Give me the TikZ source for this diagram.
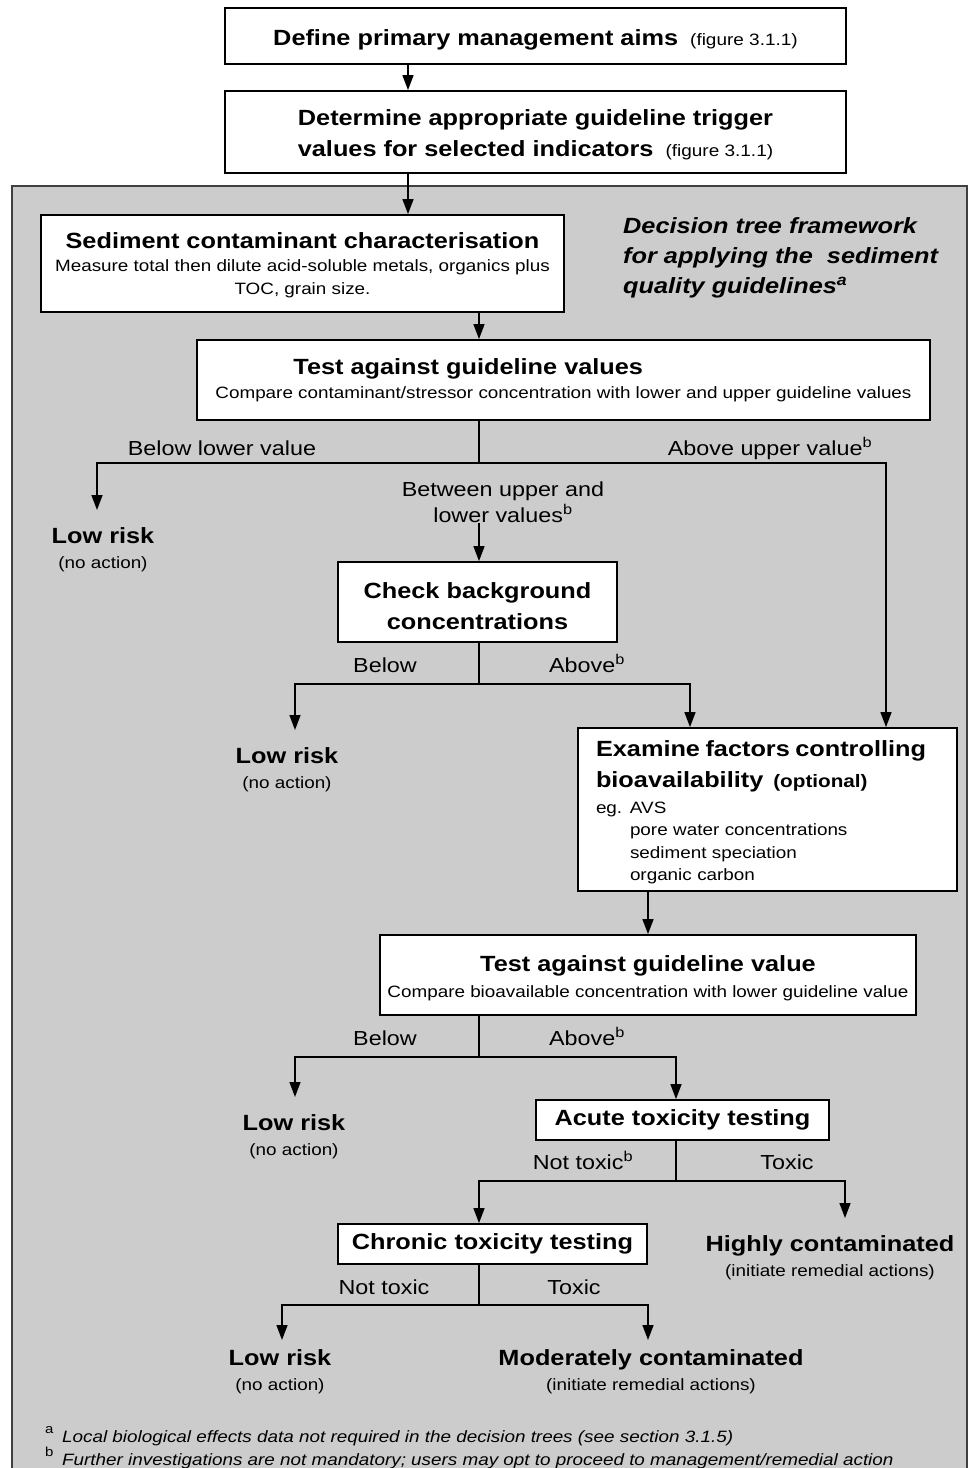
\documentclass[tikz,border=0pt]{standalone}
\usepackage{fontspec}
\setmainfont{Liberation Sans}[FakeStretch=1.15]
\usepackage{tikz}
\usetikzlibrary{positioning, arrows.meta}

\newcommand{\headtxt}[1]{{\bfseries\fontsize{22}{30}\selectfont #1}}
\newcommand{\figref}{{\fontsize{16.5}{18}\selectfont(figure 3.1.1)}}
\newcommand{\topstrut}[1]{\rule{0pt}{#1}}

\begin{document}
\begin{tikzpicture}[
    x=1pt, y=-1pt,
    box/.style={draw=black, line width=1.8pt, fill=white, inner sep=0pt, align=center, font=\fontsize{16.4}{24}\selectfont},
    conn/.style={black, line width=1.4pt},
    arrow line/.style={conn, -{Triangle[length=15pt, width=11pt]}},
    branch label/.style={font=\fontsize{20.3}{26}\selectfont, inner sep=0pt, align=center},
    outcome/.style={font=\fontsize{16.4}{25}\selectfont, inner sep=0pt, outer ysep=18pt, align=center, anchor=north}
]

\tikzset{note/.style={anchor=base west, inner sep=0pt, font=\itshape\fontsize{16.4}{18}\selectfont}}

% --- 0. Page and grey panel ---
\useasboundingbox (0,0) rectangle (969,1468);
\fill[white] (0,0) rectangle (969,1468);
\fill[gray!40] (12,186) rectangle (967,1468);
\draw[black!75, line width=1.5pt] (12,1468) |- (967,186) -- (967,1468);

% --- 1. Management aims ---
\node[box, minimum width=621pt, minimum height=56pt] (aims) at (535.5,36)
    {\topstrut{24pt}\headtxt{Define primary management aims}\hspace{12pt}\figref};
\node[box, minimum width=621pt, minimum height=82pt, font=\fontsize{16.4}{31}\selectfont] (trigger) at (535.5,132)
    {\topstrut{22pt}\headtxt{Determine appropriate guideline trigger}\\\headtxt{values for selected indicators}\hspace{12pt}\figref};

% --- 2. Characterisation and first test ---
\node[box, minimum width=523pt, minimum height=97pt, font=\fontsize{16.4}{23}\selectfont] (charac) at (302.5,263.5)
    {\topstrut{20pt}\headtxt{Sediment contaminant characterisation}\\Measure total then dilute acid-soluble metals, organics plus\\TOC, grain size.};

\node[anchor=north west, inner sep=0pt, align=left, font=\bfseries\itshape\fontsize{22}{30}\selectfont] (frame) at (623,217)
    {Decision tree framework\\for applying the\hspace{7pt} sediment\\quality guidelines\textsuperscript{a}};

\node[box, minimum width=733pt, minimum height=80pt, align=left] (test) at (563.5,380)
    {\hspace*{78pt}\headtxt{Test against guideline values}\\Compare contaminant/stressor concentration with lower and upper guideline values};

\node[branch label, anchor=base] (belowlow) at (222,455) {Below lower value};
\node[branch label, anchor=base] (aboveup) at (770,455) {Above upper value\textsuperscript{b}};
\node[branch label] (between) at (503,502) {Between upper and\\lower values\textsuperscript{b}};

\node[outcome] (low1) at (103,510) {\headtxt{Low risk}\\(no action)};

% --- 3. Background check ---
\node[box, minimum width=279pt, minimum height=80pt, font=\fontsize{16.4}{31}\selectfont] (check) at (477.5,602)
    {\topstrut{24pt}\headtxt{Check background}\\\headtxt{concentrations}};

\node[branch label, anchor=base] (below2) at (385,672) {Below};
\node[branch label, anchor=base] (above2) at (587,672) {Above\textsuperscript{b}};

\node[outcome] (low2) at (287,730) {\headtxt{Low risk}\\(no action)};

% --- 4. Bioavailability ---
\node[box, minimum width=379pt, minimum height=163pt, text width=343pt, align=left, font=\fontsize{16.4}{22.5}\selectfont] (examine) at (767.5,809.5)
    {\topstrut{21pt}\headtxt{Examine factors controlling}\\[8.5pt]
     \headtxt{bioavailability}\hspace{10pt}{\bfseries\fontsize{18}{20}\selectfont(optional)}\\[3.5pt]
     \makebox[34pt][l]{eg.}AVS\\
     \hspace*{34pt}pore water concentrations\\
     \hspace*{34pt}sediment speciation\\
     \hspace*{34pt}organic carbon};

\node[box, minimum width=536pt, minimum height=80pt, font=\fontsize{16.4}{26}\selectfont] (value) at (648,975)
    {\topstrut{23pt}\headtxt{Test against guideline value}\\Compare bioavailable concentration with lower guideline value};

\node[branch label, anchor=base] (below3) at (385,1045) {Below};
\node[branch label, anchor=base] (above3) at (587,1045) {Above\textsuperscript{b}};

\node[outcome] (low3) at (294,1097) {\headtxt{Low risk}\\(no action)};

% --- 5. Toxicity testing ---
\node[box, minimum width=293pt, minimum height=40pt] (acute) at (682.5,1120) {\headtxt{Acute toxicity testing}};

\node[branch label, anchor=base] (nottox1) at (583,1169) {Not toxic\textsuperscript{b}};
\node[branch label, anchor=base] (tox1) at (787,1169) {Toxic};

\node[box, minimum width=309pt, minimum height=40pt] (chronic) at (492.5,1244) {\headtxt{Chronic toxicity testing}};
\node[outcome] (high) at (830,1218) {\headtxt{Highly contaminated}\\(initiate remedial actions)};

\node[branch label, anchor=base] (nottox2) at (384,1294) {Not toxic};
\node[branch label, anchor=base] (tox2) at (574,1294) {Toxic};

\node[outcome, outer ysep=10pt] (low4) at (280,1340) {\headtxt{Low risk}\\(no action)};
\node[outcome, outer ysep=10pt] (mod) at (651,1340) {\headtxt{Moderately contaminated}\\(initiate remedial actions)};

% --- 6. Footnotes ---
\node[note] (notea) at (45,1442) {\makebox[17pt][l]{\raisebox{9pt}{\upshape\fontsize{13}{13}\selectfont a}}Local biological effects data not required in the decision trees (see section 3.1.5)};
\node[note] (noteb) at (45,1465) {\makebox[17pt][l]{\raisebox{9pt}{\upshape\fontsize{13}{13}\selectfont b}}Further investigations are not mandatory; users may opt to proceed to management/remedial action};

% --- 7. Connectors ---
\coordinate (topx) at (408,0);
\coordinate (midx) at (479,0);
\draw[arrow line] (aims.south -| topx) -- (trigger.north -| topx);
\draw[arrow line] (trigger.south -| topx) -- (charac.north -| topx);
\draw[arrow line] (charac.south -| midx) -- (test.north -| midx);

% first split
\coordinate (b1) at (479,463);
\coordinate (b1L) at (97,463);
\coordinate (b1R) at (886,463);
\draw[conn] (test.south -| b1) -- (b1);
\draw[arrow line] (b1) -- (b1L) -- (b1L |- low1.north);
\draw[arrow line] (b1) -- (b1R) -- (b1R |- examine.north);
\draw[arrow line] (between.south -| b1) -- (b1 |- check.north);

% background split
\coordinate (b2) at (479,684);
\coordinate (b2L) at (295,684);
\coordinate (b2R) at (690,684);
\draw[conn] (check.south -| b2) -- (b2);
\draw[arrow line] (b2) -- (b2L) -- (b2L |- low2.north);
\draw[arrow line] (b2) -- (b2R) -- (b2R |- examine.north);

\draw[arrow line] (examine.south -| value.north) -- (value.north);

% bioavailable split
\coordinate (b3) at (479,1057);
\coordinate (b3L) at (295,1057);
\coordinate (b3R) at (676,1057);
\draw[conn] (value.south -| b3) -- (b3);
\draw[arrow line] (b3) -- (b3L) -- (b3L |- low3.north);
\draw[arrow line] (b3) -- (b3R) -- (b3R |- acute.north);

% acute split
\coordinate (b4) at (676,1181);
\coordinate (b4L) at (479,1181);
\coordinate (b4R) at (845,1181);
\draw[conn] (acute.south -| b4) -- (b4);
\draw[arrow line] (b4) -- (b4L) -- (b4L |- chronic.north);
\draw[arrow line] (b4) -- (b4R) -- (b4R |- high.north);

% chronic split
\coordinate (b5) at (479,1305);
\coordinate (b5L) at (282,1305);
\coordinate (b5R) at (648,1305);
\draw[conn] (chronic.south -| b5) -- (b5);
\draw[arrow line] (b5) -- (b5L) -- (b5L |- low4.north);
\draw[arrow line] (b5) -- (b5R) -- (b5R |- mod.north);

\end{tikzpicture}
\end{document}
